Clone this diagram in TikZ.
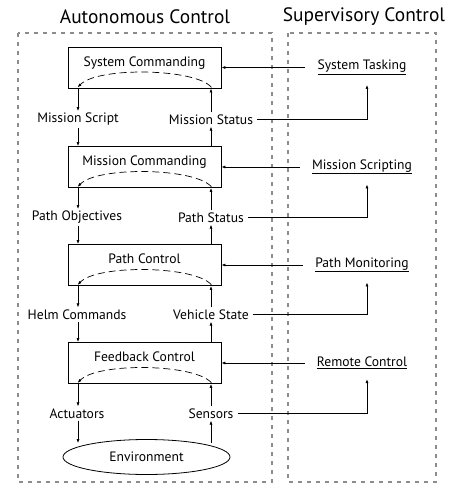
\documentclass[tikz,border=0pt]{standalone}
\usepackage{fontspec}
\setmainfont{PT Sans}
\usetikzlibrary{calc,shapes.geometric,arrows.meta}
\begin{document}
\begin{tikzpicture}[x=1pt,y=-1pt,
  frame/.style={draw=black!45, line width=1.8pt, dash pattern=on 4pt off 5pt},
  blk/.style={draw, line width=0.8pt, minimum width=153pt, minimum height=41pt, inner sep=0pt},
  lbl/.style={font=\fontsize{13.6}{15}\selectfont, inner sep=2pt},
  ttl/.style={font=\fontsize{19.4}{22}\selectfont, inner sep=0pt},
  arr/.style={-{Latex[length=4pt,width=3pt]}, line width=0.7pt},
  loop/.style={-{Latex[length=4pt,width=3pt]}, line width=0.7pt, dash pattern=on 7pt off 4pt},
  env/.style={ellipse, draw, line width=0.8pt, minimum width=167pt, minimum height=35pt, inner sep=0pt}]
\useasboundingbox (0,0) rectangle (457,483);
% titles
\node[ttl] (t1) at (145,17) {Autonomous Control};
\node[ttl] (t2) at (364,17) {Supervisory Control};
% frames
\draw[frame] (18,33) rectangle (272,482);
\draw[frame] (288,33) rectangle (436,482);
% blocks
\node[blk, label={[lbl,anchor=north,yshift=-8pt]north:System Commanding}] (sc) at (144.5,67.5) {};
\node[blk, label={[lbl,anchor=north,yshift=-8pt]north:Mission Commanding}] (mc) at (144.5,167) {};
\node[blk, label={[lbl,anchor=north,yshift=-8pt]north:Path Control}] (pc) at (144.5,265) {};
\node[blk, label={[lbl,anchor=north,yshift=-8pt]north:Feedback Control}] (fc) at (144.5,363) {};
\node[env, lbl] (en) at (146.5,457) {Environment};
% left labels
\node[lbl] (ms) at (78,119.5) {Mission Script};
\node[lbl] (po) at (77,217.5) {Path Objectives};
\node[lbl] (hc) at (77,314.5) {Helm Commands};
\node[lbl] (ac) at (77,413.5) {Actuators};
% right labels
\node[lbl] (mt) at (211,119.5) {Mission Status};
\node[lbl] (ps) at (211,217.5) {Path Status};
\node[lbl] (vs) at (211,314.5) {Vehicle State};
\node[lbl] (se) at (211,413.5) {Sensors};
% supervisory labels
\node[lbl] (st) at (362,67.5) {\underline{System Tasking}};
\node[lbl] (sm) at (362,167) {\underline{Mission Scripting}};
\node[lbl] (pm) at (362,265) {\underline{Path Monitoring}};
\node[lbl] (rc) at (362,363) {\underline{Remote Control}};
% loops inside blocks
\foreach \b in {sc,mc,pc,fc}{
  \draw[loop] ($(\b.south east)+(-10,-1)$) .. controls ($(\b.south east)+(-25,-20)$) and ($(\b.south west)+(30,-22)$) .. ($(\b.south west)+(10,-1)$);
}
% downward chain
\draw[arr] (sc.south -| ms) -- (ms.north);
\draw[arr] (ms.south) -- (mc.north -| ms);
\draw[arr] (mc.south -| ms) -- (po.north -| ms);
\draw[arr] (po.south -| ms) -- (pc.north -| ms);
\draw[arr] (pc.south -| ms) -- (hc.north -| ms);
\draw[arr] (hc.south -| ms) -- (fc.north -| ms);
\draw[arr] (fc.south -| ms) -- (ac.north -| ms);
\draw[arr] (ac.south -| ms) -- ($(en.north -| ms)+(0,4)$);
% upward chain
\draw[arr] ($(en.north -| mt)+(0,4)$) -- (se.south -| mt);
\draw[arr] (se.north -| mt) -- (fc.south -| mt);
\draw[arr] (fc.north -| mt) -- (vs.south -| mt);
\draw[arr] (vs.north -| mt) -- (pc.south -| mt);
\draw[arr] (pc.north -| mt) -- (ps.south -| mt);
\draw[arr] (ps.north -| mt) -- (mc.south -| mt);
\draw[arr] (mc.north -| mt) -- (mt.south);
\draw[arr] (mt.north) -- (sc.south -| mt);
% supervisory commands
\draw[arr] ([xshift=-10pt]st.west) -- (sc.east);
\draw[arr] ([xshift=-10pt]sm.west) -- (mc.east);
\draw[arr] ([xshift=-10pt]pm.west) -- (pc.east);
\draw[arr] ([xshift=-10pt]rc.west) -- (rc.west -| fc.east);
% status feedback
\draw[arr] ([xshift=2pt]mt.east) -| ([xshift=5pt,yshift=-8pt]st.south);
\draw[arr] ([xshift=2pt]ps.east) -| ([xshift=5pt,yshift=-8pt]sm.south);
\draw[arr] ([xshift=2pt]vs.east) -| ([xshift=5pt,yshift=-8pt]pm.south);
\draw[arr] ([xshift=2pt]se.east) -| ([xshift=5pt,yshift=-8pt]rc.south);
\end{tikzpicture}
\end{document}
